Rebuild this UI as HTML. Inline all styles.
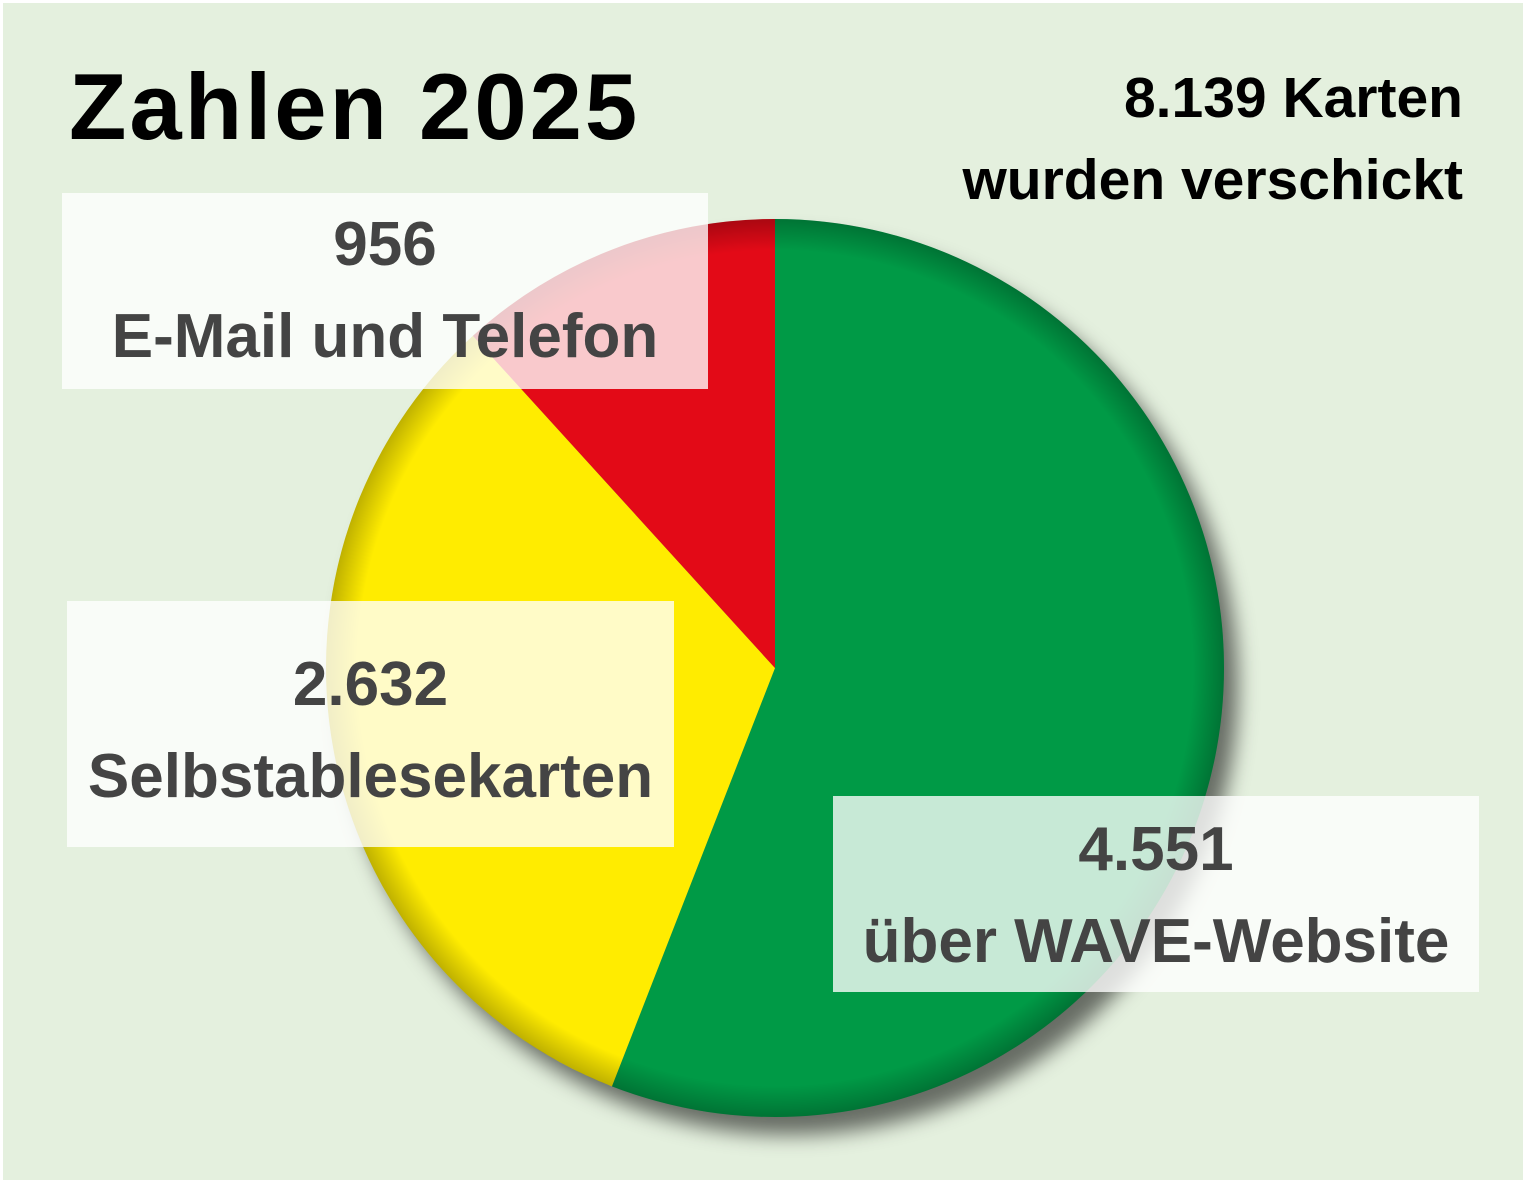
<!DOCTYPE html>
<html><head><meta charset="utf-8"><style>
body{margin:0;background:#fff}
#wrap{position:relative;width:1520px;height:1177px;margin:3px;background:#e4f0de;overflow:hidden;font-family:"Liberation Sans",sans-serif}
.box{position:absolute;background:rgba(255,255,255,0.78);color:#444;font-weight:bold;text-align:center;font-size:62px;line-height:92px}
</style></head><body>
<div id="wrap">
<svg id="pie" width="1520" height="1177" style="position:absolute;left:0;top:0">
<defs>
<filter id="sh" x="-20%" y="-20%" width="140%" height="140%"><feGaussianBlur stdDeviation="10"/></filter>
<radialGradient id="edge" cx="0.5" cy="0.5" r="0.5"><stop offset="0.93" stop-color="#000" stop-opacity="0"/><stop offset="1" stop-color="#000" stop-opacity="0.25"/></radialGradient>
</defs>
<g id="slices"></g>
</svg>
<div style="position:absolute;left:66px;top:50px;font-size:94px;font-weight:900;color:#000;letter-spacing:3px">Zahlen 2025</div>
<div style="position:absolute;right:60px;top:54px;text-align:right;font-size:57px;font-weight:bold;line-height:82px;color:#000">8.139 Karten<br>wurden verschickt</div>
<div class="box" style="left:59px;top:190px;width:646px;height:196px;padding-top:6px;box-sizing:border-box">956<br>E-Mail und Telefon</div>
<div class="box" style="left:64px;top:598px;width:607px;height:246px;padding-top:38px;box-sizing:border-box">2.632<br>Selbstablesekarten</div>
<div class="box" style="left:830px;top:793px;width:646px;height:196px;padding-top:8px;box-sizing:border-box">4.551<br>über WAVE-Website</div>
</div>
<script>
const categories=["über WAVE-Website","Selbstablesekarten","E-Mail und Telefon"];
const values=[4551,2632,956];
const colors=["#009a46","#ffec00","#e30a17"];
const cx=772,cy=665,r=449;
const g=document.getElementById('slices');
const ns="http://www.w3.org/2000/svg";
const total=values.reduce((a,b)=>a+b,0);
const sh=document.createElementNS(ns,'circle');
sh.setAttribute('cx',cx+14);sh.setAttribute('cy',cy+18);sh.setAttribute('r',r);sh.setAttribute('fill','rgba(0,0,0,0.55)');sh.setAttribute('filter','url(#sh)');


g.appendChild(sh);
function pt(a){return [cx+r*Math.sin(a),cy-r*Math.cos(a)];}
let a0=0;
values.forEach((v,i)=>{
  const a1=a0+v/total*2*Math.PI;
  const p0=pt(a0),p1=pt(a1);
  const path=document.createElementNS(ns,'path');
  path.setAttribute('d',`M${cx},${cy}L${p0[0]},${p0[1]}A${r},${r} 0 ${a1-a0>Math.PI?1:0} 1 ${p1[0]},${p1[1]}Z`);
  path.setAttribute('fill',colors[i]);
  
  
  g.appendChild(path);
  a0=a1;
});
const e=document.createElementNS(ns,'circle');
e.setAttribute('cx',cx);e.setAttribute('cy',cy);e.setAttribute('r',r);e.setAttribute('fill','url(#edge)');


g.appendChild(e);
</script>
</body></html>
